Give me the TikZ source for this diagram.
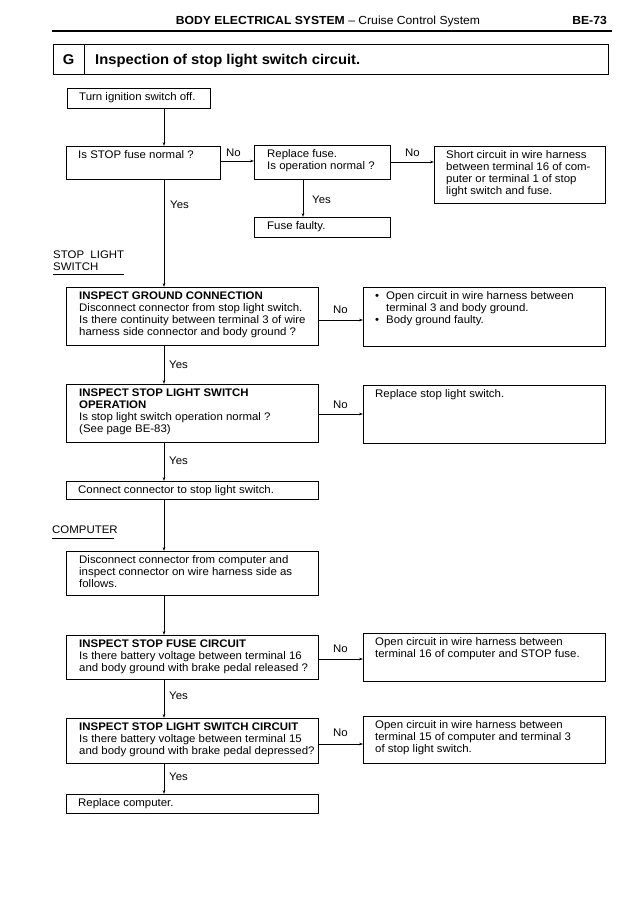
\documentclass[tikz,border=0pt]{standalone}
\usepackage{fontspec}
\setmainfont{Liberation Sans}[FakeStretch=1.04]
\usetikzlibrary{arrows.meta}
\newcommand\fs{\fontsize{11}{12}\selectfont}
\newcommand\tb[1]{\parbox[t]{260pt}{\fs\raggedright #1}}
\newcommand\flowbox[7]{%
  \node[bx, minimum width={#4-#2}, minimum height={#5-#3}] (#1) at (#2,#3) {};
  \node[tx] (#1t) at ([shift={(#6pt,-12.5pt)}]#1.north west) {\tb{#7}};}
\begin{document}
\begin{tikzpicture}[x=1pt,y=-1pt,
  bx/.style={draw, line width=0.7pt, inner sep=0pt, anchor=north west},
  tx/.style={anchor=base west, inner sep=0pt},
  lab/.style={anchor=base west, inner sep=0pt, font=\fs},
  arr/.style={line width=0.5pt, -{Stealth[length=4pt,width=2.6pt]}},
  ln/.style={line width=0.5pt}]
\useasboundingbox[fill=white] (0,0) rectangle (640,904);

% header
\node[anchor=base, inner sep=0pt, font=\fontsize{11.7}{12}\selectfont] (hdr) at (328,25)
  {\textbf{BODY ELECTRICAL SYSTEM} -- Cruise Control System};
\node[anchor=base east, inner sep=0pt, font=\bfseries\fontsize{11.7}{12}\selectfont] (pg) at (607,25) {BE-73};
\coordinate (r1) at (52,31);
\coordinate (r2) at (612,31);
\draw[line width=1.3pt] (r1) -- (r2);

% title box
\node[bx, line width=0.8pt, minimum width=555, minimum height=30] (title) at (53,44) {};
\draw[line width=0.8pt] ([xshift=31pt]title.north west) -- ([xshift=31pt]title.south west);
\node[inner sep=0pt, font=\bfseries\fontsize{14.2}{14}\selectfont] (g) at ([xshift=15.5pt,yshift=-0.5pt]title.west) {G};
\node[anchor=west, inner sep=0pt, font=\bfseries\fontsize{14.2}{14}\selectfont] (ttl) at ([xshift=42pt,yshift=-1.5pt]title.west) {Inspection of stop light switch circuit.};

% boxes
\flowbox{B0}{67}{88}{210}{108}{12}{Turn ignition switch off.}
\flowbox{B1}{66}{146}{220}{179}{12}{Is STOP fuse normal ?}
\flowbox{B2}{254}{145}{390}{179}{13}{Replace fuse.\\Is operation normal ?}
\flowbox{B3}{434}{146}{605}{203}{12}{Short circuit in wire harness\\between terminal 16 of com-\\puter or terminal 1 of stop\\light switch and fuse.}
\flowbox{B4}{254}{217}{390}{237}{13}{Fuse faulty.}
\flowbox{B5}{66}{287}{318}{345}{13}{\textbf{INSPECT GROUND CONNECTION}\\Disconnect connector from stop light switch.\\Is there continuity between terminal 3 of wire\\harness side connector and body ground ?}
\flowbox{B6}{363}{287}{605}{346}{12}{\makebox[11pt][l]{\textbullet}Open circuit in wire harness between\\\hspace*{11pt}terminal 3 and body ground.\\\makebox[11pt][l]{\textbullet}Body ground faulty.}
\flowbox{B7}{66}{384}{318}{442}{13}{\textbf{INSPECT STOP LIGHT SWITCH}\\\textbf{OPERATION}\\Is stop light switch operation normal ?\\(See page BE-83)}
\flowbox{B8}{363}{385}{605}{443}{12}{Replace stop light switch.}
\flowbox{B9}{66}{481}{318}{499}{12}{Connect connector to stop light switch.}
\flowbox{B10}{66}{551}{318}{595}{13}{Disconnect connector from computer and\\inspect connector on wire harness side as\\follows.}
\flowbox{B11}{66}{635}{318}{679}{13}{\textbf{INSPECT STOP FUSE CIRCUIT}\\Is there battery voltage between terminal 16\\and body ground with brake pedal released ?}
\flowbox{B12}{363}{633}{605}{681}{12}{Open circuit in wire harness between\\terminal 16 of computer and STOP fuse.}
\flowbox{B13}{66}{718}{318}{763}{13}{\textbf{INSPECT STOP LIGHT SWITCH CIRCUIT}\\Is there battery voltage between terminal 15\\and body ground with brake pedal depressed?}
\flowbox{B14}{363}{716}{605}{763}{12}{Open circuit in wire harness between\\terminal 15 of computer and terminal 3\\of stop light switch.}
\flowbox{B15}{66}{794}{318}{813}{12}{Replace computer.}

% section labels
\node[tx] (sls) at (53,258) {\tb{STOP\ \ LIGHT\\SWITCH}};
\coordinate (u1) at (53,274);
\coordinate (u2) at (124,274);
\draw[ln] (u1) -- (u2);
\node[tx] (cmp) at (52,533) {\tb{COMPUTER}};
\coordinate (u3) at (52,538);
\coordinate (u4) at (114,538);
\draw[ln] (u3) -- (u4);

% spine connectors
\coordinate (spine) at (164,0);
\draw[arr] (B0.south -| spine) -- (B1.north -| spine);
\draw[arr] (B1.south -| spine) -- (B5.north -| spine);
\draw[arr] (B5.south -| spine) -- (B7.north -| spine);
\draw[arr] (B7.south -| spine) -- (B9.north -| spine);
\draw[arr] (B9.south -| spine) -- (B10.north -| spine);
\draw[arr] (B10.south -| spine) -- (B11.north -| spine);
\draw[arr] (B11.south -| spine) -- (B13.north -| spine);
\draw[arr] (B13.south -| spine) -- (B15.north -| spine);
\coordinate (sp2) at (303,0);
\draw[arr] (B2.south -| sp2) -- (B4.north -| sp2);

% horizontal connectors
\draw[arr] (B1.east |- 0,161) -- (B2.west |- 0,161);
\draw[arr] (B2.east |- 0,162) -- (B3.west |- 0,162);
\draw[arr] (B5.east |- 0,320) -- (B6.west |- 0,320);
\draw[arr] (B7.east |- 0,414) -- (B8.west |- 0,414);
\draw[arr] (B11.east |- 0,659) -- (B12.west |- 0,659);
\draw[arr] (B13.east |- 0,744) -- (B14.west |- 0,744);

% labels
\node[lab] (n1) at (226,157) {No};
\node[lab] (n2) at (405,157) {No};
\node[lab] (y0) at (312,203) {Yes};
\node[lab] (y1) at (170,208) {Yes};
\node[lab] (n3) at (333,313) {No};
\node[lab] (y2) at (169,368) {Yes};
\node[lab] (n4) at (333,408) {No};
\node[lab] (y3) at (169,464) {Yes};
\node[lab] (n5) at (333,652) {No};
\node[lab] (y4) at (169,699) {Yes};
\node[lab] (n6) at (333,736) {No};
\node[lab] (y5) at (169,780) {Yes};
\end{tikzpicture}
\end{document}
